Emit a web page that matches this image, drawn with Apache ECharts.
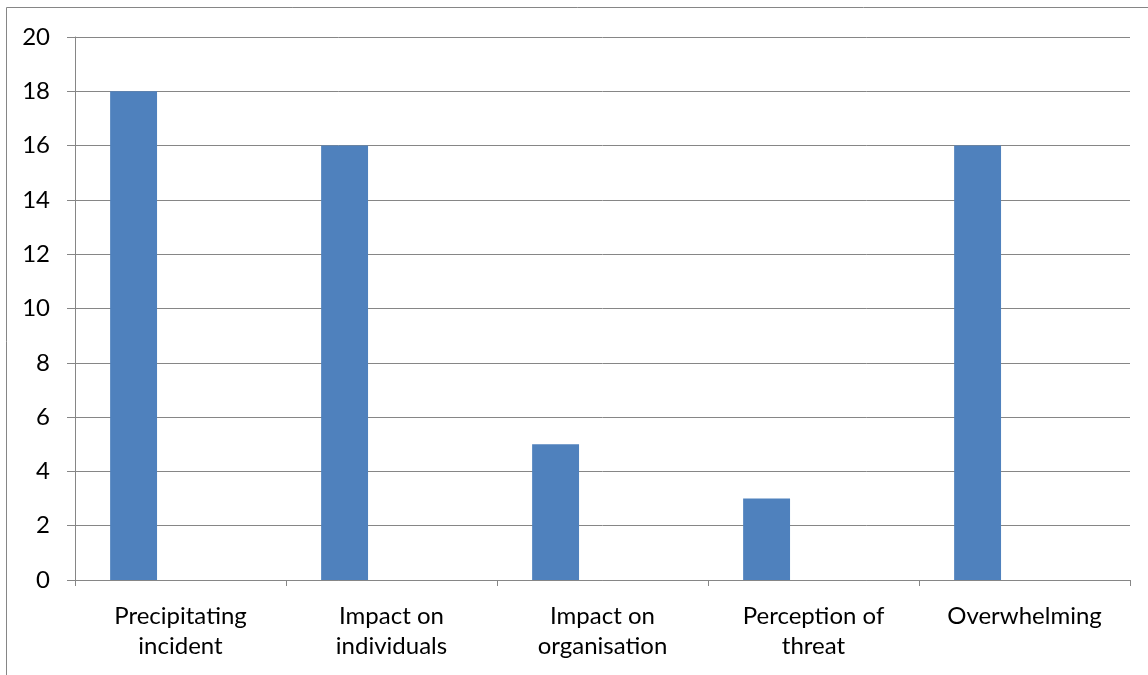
<!DOCTYPE html>
<html><head><meta charset="utf-8">
<script src="https://cdn.jsdelivr.net/npm/echarts@6/dist/echarts.min.js"></script>
<style>html,body{margin:0;padding:0;background:#fff}#c{width:1148px;height:675px}</style>
</head><body><div id="c"></div>
<script>
const categories = ["Precipitating\nincident", "Impact on\nindividuals", "Impact on\norganisation", "Perception of\nthreat", "Overwhelming"];
const values = [18, 16, 5, 3, 16];
const yTicks = {min: 0, max: 20, interval: 2};

const chart = echarts.init(document.getElementById('c'));
const font = 'Lato, "Open Sans", sans-serif';
chart.setOption({
  animation: false,
  graphic: [{type: 'rect', shape: {x: 6.5, y: 7.5, width: 1160, height: 700}, style: {fill: 'none', stroke: '#868686', lineWidth: 1}, silent: true}],
  grid: {left: 75, right: 18, top: 37, bottom: 95},
  xAxis: {
    type: 'category', data: categories,
    axisLine: {lineStyle: {color: '#868686', width: 1}},
    axisTick: {show: true, length: 6, lineStyle: {color: '#868686'}, alignWithLabel: false},
    axisLabel: {color: '#000', fontSize: 24, fontFamily: font, margin: 21, lineHeight: 30, interval: 0}
  },
  yAxis: {
    type: 'value', min: yTicks.min, max: yTicks.max, interval: yTicks.interval,
    axisLine: {show: true, lineStyle: {color: '#868686', width: 1}},
    axisTick: {show: true, length: 8, lineStyle: {color: '#868686'}},
    axisLabel: {color: '#000', fontSize: 24, fontFamily: font, margin: 25},
    splitLine: {lineStyle: {color: '#868686', width: 1}}
  },
  series: [
    {type: 'bar', data: values, barGap: '0%', barCategoryGap: '33.3%', itemStyle: {color: '#4F81BD'}},
    {type: 'bar', data: [], barGap: '0%', barCategoryGap: '33.3%'},
    {type: 'bar', data: [], barGap: '0%', barCategoryGap: '33.3%'}
  ]
});
</script></body></html>
